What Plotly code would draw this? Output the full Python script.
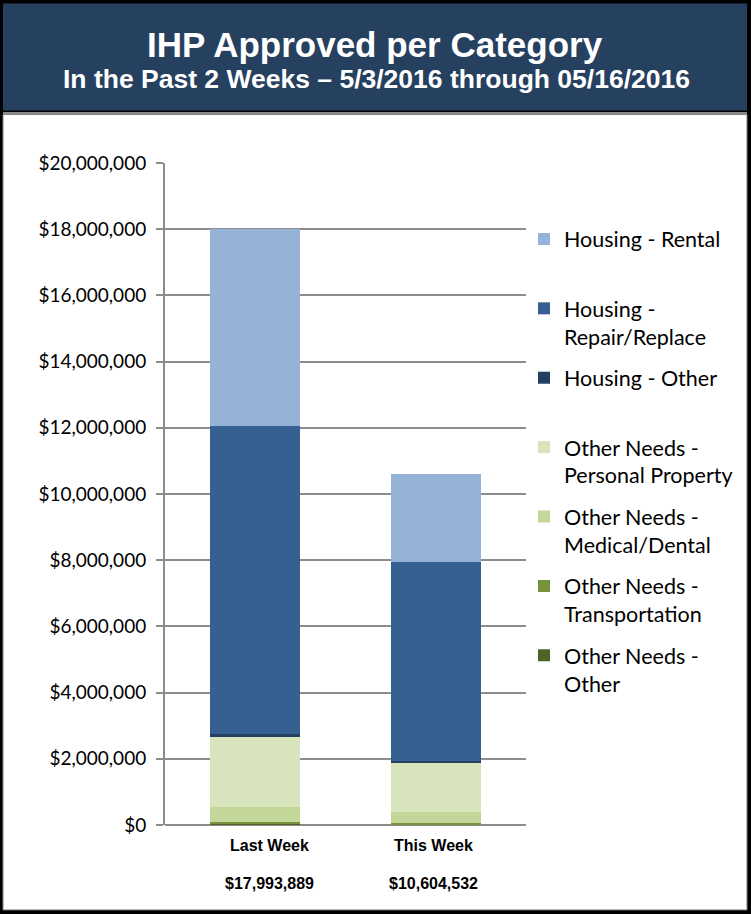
import plotly.graph_objects as go

weeks = ['Last Week', 'This Week']
totals = ['$17,993,889', '$10,604,532']

# stacked bottom -> top
series_names = [
    'Other Needs -<br>Other',
    'Other Needs -<br>Transportation',
    'Other Needs -<br>Medical/Dental',
    'Other Needs -<br>Personal Property',
    'Housing - Other<br>&nbsp;',
    'Housing -<br>Repair/Replace',
    'Housing - Rental<br>&nbsp;',
]
other_needs_other = [40000, 30000]
other_needs_transport = [50000, 30000]
other_needs_medical = [450000, 340000]
other_needs_personal = [2120000, 1500000]
housing_other = [100000, 20000]
housing_repair = [9300000, 6040000]
housing_rental = [5933889, 2644532]

series_values = [other_needs_other, other_needs_transport, other_needs_medical,
                 other_needs_personal, housing_other, housing_repair, housing_rental]
colors = ['#4F6228', '#77933C', '#C4D79B', '#D8E4BC', '#243F60', '#366092', '#95B3D7']

yticks = [0, 2e6, 4e6, 6e6, 8e6, 10e6, 12e6, 14e6, 16e6, 18e6, 20e6]
ytick_labels = ['$0', '$2,000,000', '$4,000,000', '$6,000,000', '$8,000,000', '$10,000,000',
                '$12,000,000', '$14,000,000', '$16,000,000', '$18,000,000', '$20,000,000']

# plot area in pixels, used to place frame / annotations in paper coords
L, R, T, B = 165, 526, 162.5, 825
W, H = 751, 914


def px(x):
    return (x - L) / (R - L)


def py(y):
    return (B - y) / (B - T)


fig = go.Figure()
n = len(series_names)
for i, (name, vals, color) in enumerate(zip(series_names, series_values, colors)):
    fig.add_trace(go.Bar(
        x=weeks,
        y=vals,
        name=name,
        legendgroup=str(i),
        legendrank=(n - i) * 10,
        marker=dict(color=color, line=dict(width=0)),
    ))

shapes = [
    dict(type='rect', xref='paper', yref='paper', x0=px(3), x1=px(747), y0=py(114), y1=py(910),
         fillcolor='white', line=dict(color='#7f7f7f', width=1), layer='below'),
    dict(type='rect', xref='paper', yref='paper', x0=px(3), x1=px(747), y0=py(111.5), y1=py(114),
         fillcolor='#8a8a8a', line=dict(width=0), layer='below'),
    dict(type='rect', xref='paper', yref='paper', x0=px(3), x1=px(747), y0=py(3), y1=py(110),
         fillcolor='#26405F', line=dict(width=0), layer='below'),
]

annotations = [
    dict(text='<b>IHP Approved per Category</b>', xref='paper', yref='paper', x=px(375), y=py(44),
         xanchor='center', yanchor='middle', showarrow=False,
         font=dict(family='Liberation Sans, Arial', size=35, color='white')),
    dict(text='<b>In the Past 2 Weeks \u2013 5/3/2016 through 05/16/2016</b>', xref='paper', yref='paper',
         x=px(376), y=py(78), xanchor='center', yanchor='middle', showarrow=False,
         font=dict(family='Liberation Sans, Arial', size=26.5, color='white')),
]
label_font = dict(family='Liberation Sans Narrow, Arial Narrow, Liberation Sans', size=16, color='black')
for wk, tot, shift in zip(weeks, totals, [14, -2]):
    annotations.append(dict(
        text='<b>' + wk + '</b>', x=wk, xref='x', yref='paper', y=py(846), xshift=shift,
        xanchor='center', yanchor='middle', showarrow=False, font=label_font))
    annotations.append(dict(
        text='<b>' + tot + '</b>', x=wk, xref='x', yref='paper', y=py(884), xshift=shift,
        xanchor='center', yanchor='middle', showarrow=False, font=label_font))

fig.update_layout(
    width=W, height=H,
    margin=dict(l=L, r=W - R, t=T, b=H - B, pad=0, autoexpand=False),
    barmode='stack',
    bargap=0.5,
    paper_bgcolor='black',
    plot_bgcolor='white',
    shapes=shapes,
    annotations=annotations,
    showlegend=True,
    legend=dict(
        x=px(524), xanchor='left', y=py(218), yanchor='top',
        traceorder='grouped', tracegroupgap=10.5, valign='top',
        font=dict(family='Lato', size=21.5, color='black'),
        bgcolor='rgba(0,0,0,0)',
    ),
)

fig.update_xaxes(
    range=[-0.5, 1.5], showgrid=False, showline=False, ticks='',
    showticklabels=False,
)
fig.update_yaxes(
    range=[0, 20e6], tickvals=yticks, ticktext=ytick_labels,
    showgrid=True, gridcolor='#8c8c8c', gridwidth=2,
    showline=True, linecolor='#8c8c8c', linewidth=2,
    zeroline=True, zerolinecolor='#8c8c8c', zerolinewidth=2,
    ticks='outside', ticklen=7, tickcolor='#8c8c8c', tickwidth=2,
    ticklabelstandoff=6,
    tickfont=dict(family='Lato', size=19, color='black'),
)

fig.write_html('out.html', config={'displayModeBar': False},
               post_script="document.body.style.margin='0';")
